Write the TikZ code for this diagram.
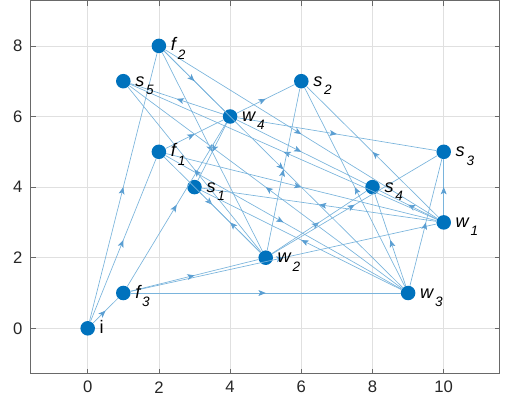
\documentclass[tikz,border=0pt]{standalone}
\usepackage{fontspec}
\setmainfont{Liberation Sans}
\usetikzlibrary{arrows.meta,decorations.markings}
\definecolor{mblue}{RGB}{0,114,189}
\definecolor{eblue}{RGB}{122,180,220}
\definecolor{ablue}{RGB}{90,158,210}
\definecolor{gridc}{RGB}{224,224,224}
\definecolor{axc}{RGB}{105,105,105}
\definecolor{tickc}{RGB}{38,38,38}
\newcommand{\nlab}[2]{{\itshape #1}\kern1.4pt\raisebox{-6.3pt}{\fontsize{10.2}{11}\selectfont\itshape #2}}
\tikzset{
  vtx/.style={circle, fill=mblue, draw=none, minimum size=10.9pt, inner sep=0pt},
  lbl/.style={anchor=base west, inner sep=0pt, font=\fontsize{13.6}{15}\selectfont, text=black},
  arc/.style={draw=eblue, line width=0.5pt, postaction={decorate},
    decoration={markings, mark=at position 0.5 with {\arrow{Stealth[length=5.4pt,width=4.4pt,inset=1.3pt,color=ablue]}}}},
  gridline/.style={draw=gridc, line width=0.5pt},
  tickmark/.style={draw=axc, line width=0.5pt},
  ticklbl/.style={font=\fontsize{12.5}{13}\selectfont, text=tickc, inner sep=0pt}
}
\begin{document}
\begin{tikzpicture}[x=0.75pt,y=0.75pt]
\useasboundingbox (0,0) rectangle (505,407);
\begin{scope}[shift={(87.7,78.7)}, x=26.7pt, y=26.475pt]
  % grid
  \foreach \gx in {0,2,...,10} \draw[gridline] (\gx,-1.29) -- (\gx,9.28);
  \foreach \gy in {0,2,4,6,8} \draw[gridline] (-1.6,\gy) -- (11.58,\gy);
  % ticks
  \foreach \gx in {0,2,...,10} {
    \draw[tickmark] (\gx,-1.29) -- (\gx,-1.15);
    \draw[tickmark] (\gx,9.28) -- (\gx,9.14);
    \node[ticklbl] (xt\gx) at (\gx,-1.67) {\gx};
  }
  \foreach \gy in {0,2,4,6,8} {
    \draw[tickmark] (-1.6,\gy) -- (-1.46,\gy);
    \draw[tickmark] (11.58,\gy) -- (11.44,\gy);
    \node[ticklbl, anchor=east] (yt\gy) at (-1.83,\gy) {\gy};
  }
  \draw[axc, line width=0.7pt] (-1.6,-1.29) rectangle (11.58,9.28);
  % vertices
  \node[vtx] (i)  at (0,0) {};
  \node[vtx] (f1) at (2,5) {};
  \node[vtx] (f2) at (2,8) {};
  \node[vtx] (f3) at (1,1) {};
  \node[vtx] (s1) at (3,4) {};
  \node[vtx] (s2) at (6,7) {};
  \node[vtx] (s3) at (10,5) {};
  \node[vtx] (s4) at (8,4) {};
  \node[vtx] (s5) at (1,7) {};
  \node[vtx] (w1) at (10,3) {};
  \node[vtx] (w2) at (5,2) {};
  \node[vtx] (w3) at (9,1) {};
  \node[vtx] (w4) at (4,6) {};
  % edges
  \foreach \a/\b in {i/f1,i/f2,i/f3} \draw[arc] (\a) -- (\b);
  \foreach \a in {f1,f2,f3} \foreach \b in {w1,w2,w3,w4} \draw[arc] (\a) -- (\b);
  \foreach \a in {w1,w2,w3,w4} \foreach \b in {s1,s2,s3,s4,s5} \draw[arc] (\a) -- (\b);
  % labels
  \node[lbl] (il) at ([xshift=8.8pt,yshift=-3.75pt]i.center) {i};
  \foreach \v/\l/\n in {f1/f/1,f2/f/2,f3/f/3,s1/s/1,s2/s/2,s3/s/3,s4/s/4,s5/s/5,w1/w/1,w2/w/2,w3/w/3,w4/w/4}
    \node[lbl] (\v l) at ([xshift=8.8pt,yshift=-3.75pt]\v.center) {\nlab{\l}{\n}};
\end{scope}
\end{tikzpicture}
\end{document}
